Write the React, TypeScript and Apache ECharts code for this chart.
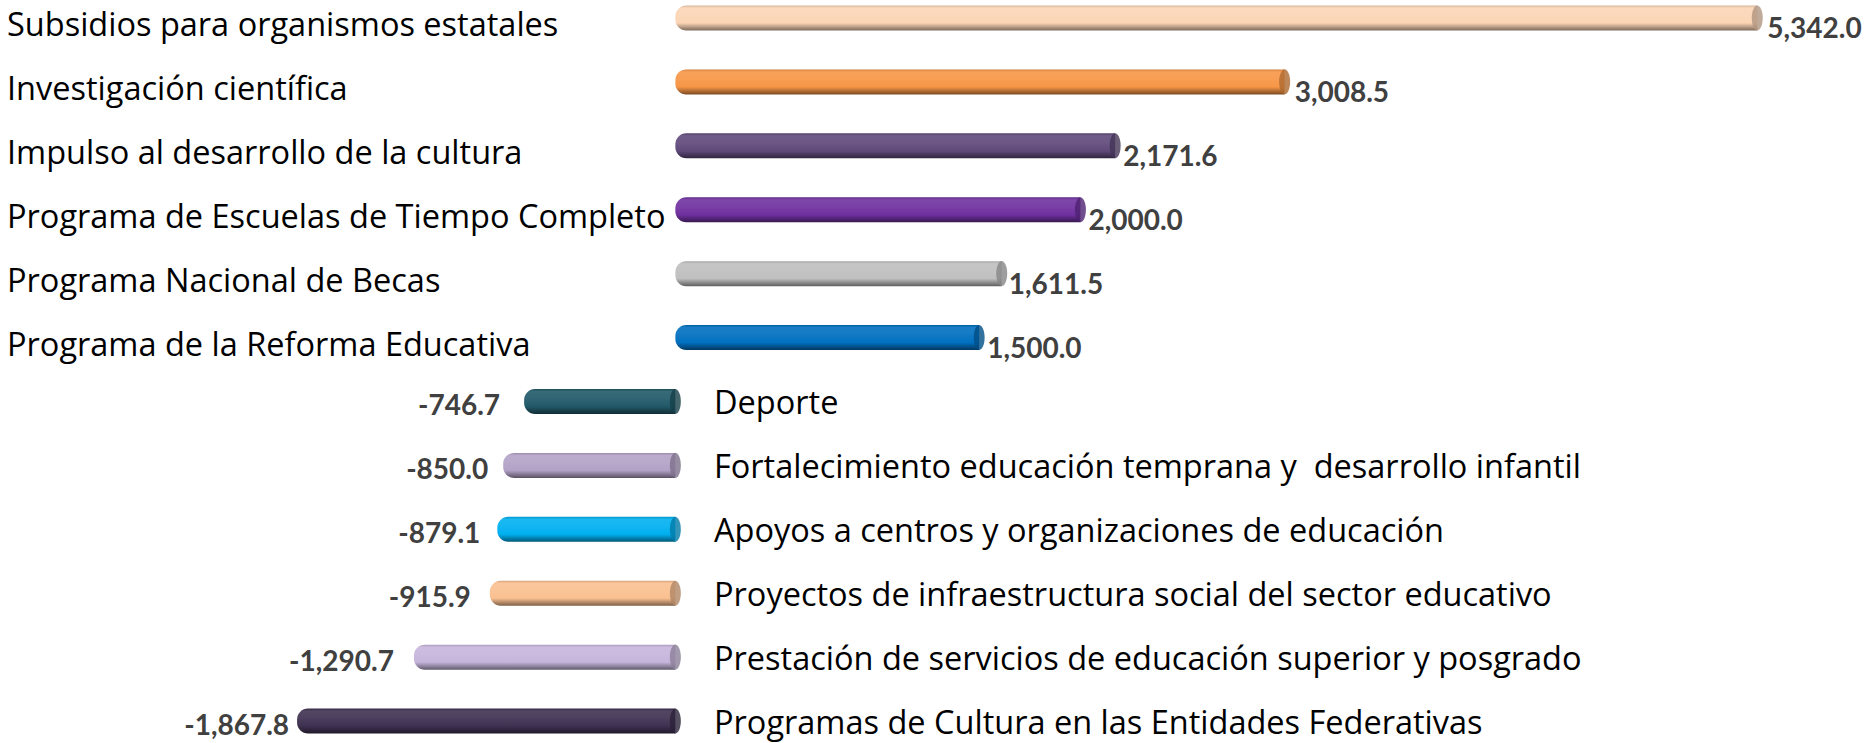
import React, { useEffect, useRef } from "react";
import * as echarts from "echarts";

const categories = [
  "Subsidios para organismos estatales",
  "Investigación científica",
  "Impulso al desarrollo de la cultura",
  "Programa de Escuelas de Tiempo Completo",
  "Programa Nacional de Becas",
  "Programa de la Reforma Educativa",
  "Deporte",
  "Fortalecimiento educación temprana y  desarrollo infantil",
  "Apoyos a centros y organizaciones de educación",
  "Proyectos de infraestructura social del sector educativo",
  "Prestación de servicios de educación superior y posgrado",
  "Programas de Cultura en las Entidades Federativas",
];

const values = [5342.0, 3008.5, 2171.6, 2000.0, 1611.5, 1500.0, -746.7, -850.0, -879.1, -915.9, -1290.7, -1867.8];

const barColors = [
  "#FBD5B5", "#F79646", "#604A7B", "#7030A0", "#BFBFBF", "#0070C0",
  "#215968", "#B3A2C7", "#00B0F0", "#FAC090", "#C6B5DB", "#3F3151",
];

// style only: gap between bar end and its value label
const labelGap = [10, 10, 8, 8, 7, 8, 24, 15, 17, 19, 20, 8];

function shade(hex: string, f: number): string {
  const n = parseInt(hex.slice(1), 16);
  let r = (n >> 16) & 255, g = (n >> 8) & 255, b = n & 255;
  if (f >= 0) {
    r = r + (255 - r) * f; g = g + (255 - g) * f; b = b + (255 - b) * f;
  } else {
    r = r * (1 + f); g = g * (1 + f); b = b * (1 + f);
  }
  const h = (v: number) => Math.round(Math.max(0, Math.min(255, v))).toString(16).padStart(2, "0");
  return "#" + h(r) + h(g) + h(b);
}

const fmt = (v: number) =>
  (v < 0 ? "-" : "") +
  Math.abs(v).toLocaleString("en-US", { minimumFractionDigits: 1, maximumFractionDigits: 1 });

const NAME_FONT = "'Open Sans', 'Noto Sans', sans-serif";

export default function App() {
  const ref = useRef<HTMLDivElement>(null);
  useEffect(() => {
    if (!ref.current) return;
    const chart = echarts.init(ref.current, undefined, { renderer: "svg" });
    const barData = values.map((v, i) => {
      const c = barColors[i];
      return {
        value: v,
        itemStyle: {
          color: new echarts.graphic.LinearGradient(0, 0, 0, 1, [
            { offset: 0, color: shade(c, -0.15) },
            { offset: 0.1, color: shade(c, 0.1) },
            { offset: 0.35, color: shade(c, 0.08) },
            { offset: 0.7, color: c },
            { offset: 1, color: shade(c, -0.5) },
          ]),
          borderRadius: [11, 0, 0, 11],
        },
        label: {
          position: v >= 0 ? "right" : "left",
          offset: v >= 0 ? [0, 9] : [0, 3],
          distance: labelGap[i],
        },
      };
    });
    const capData = values.map((v, i) => ({
      value: [v >= 0 ? v : 0, i],
      itemStyle: { color: shade(barColors[i], -0.3) },
    }));
    const nameLabel = {
      inside: true,
      margin: 0,
      align: "left",
      fontFamily: NAME_FONT,
      fontSize: 32.5,
      color: "#000",
    };
    chart.setOption({
      animation: false,
      grid: { left: 7, right: 95, top: 0, bottom: 0, containLabel: false },
      xAxis: { type: "value", min: -3300, max: 5400, show: false },
      yAxis: [
        {
          type: "category",
          inverse: true,
          data: categories,
          position: "left",
          axisLine: { show: false },
          axisTick: { show: false },
          splitLine: { show: false },
          axisLabel: {
            ...nameLabel,
            verticalAlign: "top",
            lineHeight: 12,
            formatter: (name: string, idx: number) => (values[idx] >= 0 ? name : ""),
          },
        },
        {
          type: "category",
          inverse: true,
          data: categories,
          position: "left",
          offset: -707,
          axisLine: { show: false },
          axisTick: { show: false },
          splitLine: { show: false },
          axisLabel: {
            ...nameLabel,
            verticalAlign: "middle",
            formatter: (name: string, idx: number) => (values[idx] < 0 ? name : ""),
          },
        },
      ],
      series: [
        {
          type: "bar",
          yAxisIndex: 0,
          barWidth: 25,
          data: barData,
          label: {
            show: true,
            fontFamily: "Lato",
            fontWeight: "bold",
            fontSize: 28,
            color: "#404040",
            formatter: (p: any) => fmt(p.value),
          },
        },
        {
          type: "scatter",
          yAxisIndex: 0,
          symbol: "circle",
          symbolSize: [11, 25],
          data: capData,
          z: 3,
        },
      ],
    });
    return () => chart.dispose();
  }, []);
  return (
    <div style={{ position: "absolute", left: 0, top: 0, width: 1864, height: 743, overflow: "hidden", background: "#fff" }}>
      <div ref={ref} style={{ position: "absolute", left: 0, top: -14, width: 1864, height: 767 }} />
    </div>
  );
}
